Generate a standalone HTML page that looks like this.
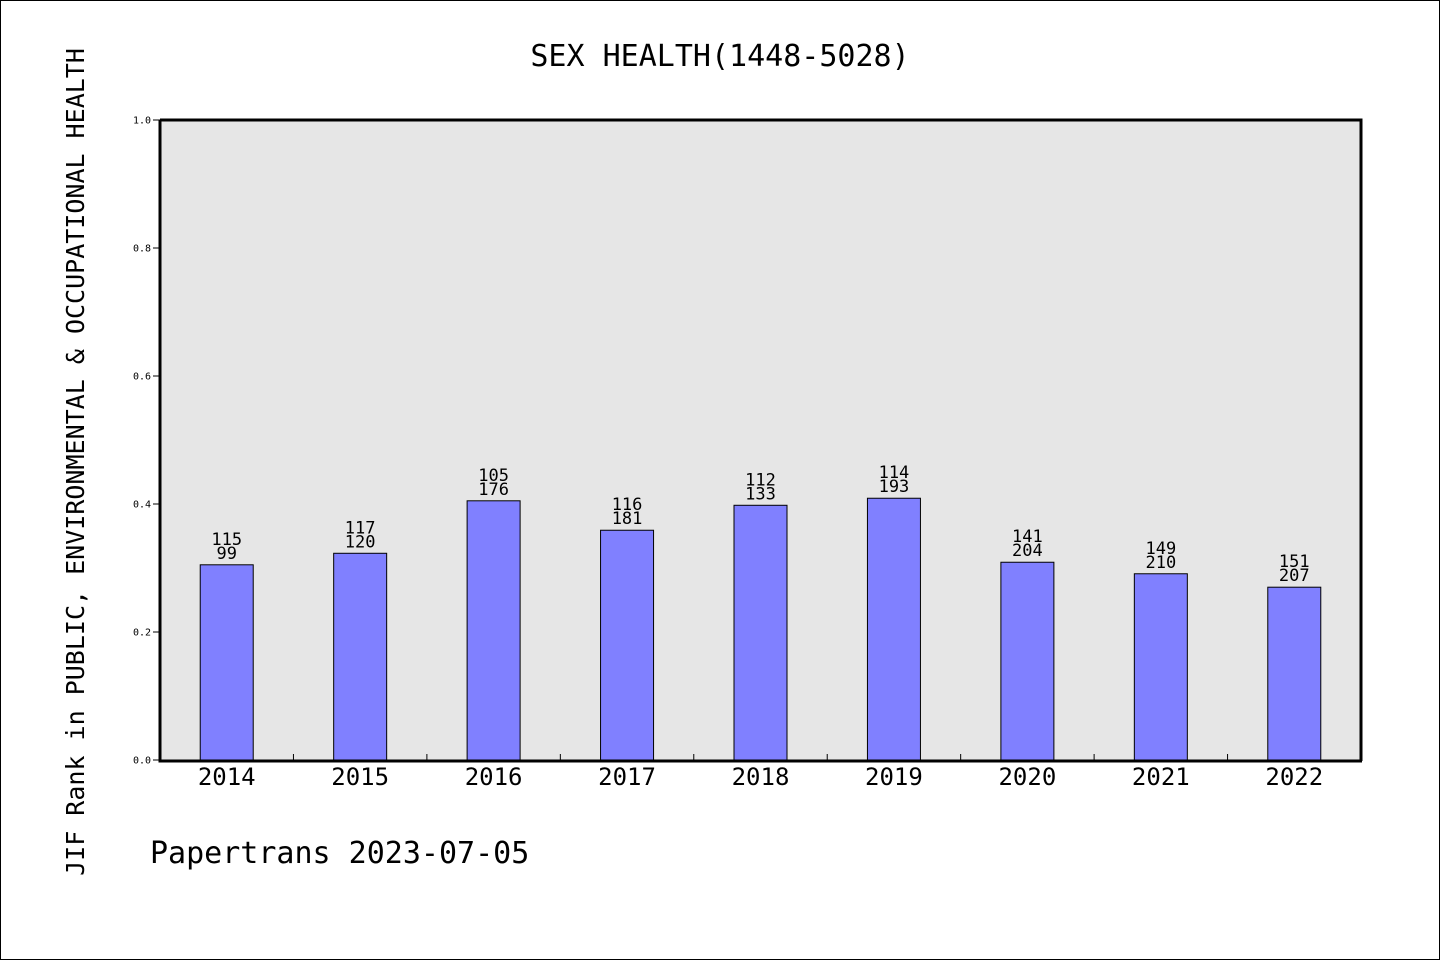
<!DOCTYPE html>
<html><head><meta charset="utf-8"><style>
body{margin:0;background:#fff}
svg text{font-family:"DejaVu Sans Mono","Liberation Mono",monospace}
</style></head><body>
<svg width="1440" height="960">
<rect x="0.5" y="0.5" width="1439" height="959" fill="#fff" stroke="#000"/>
<text x="720" y="66" font-size="30" text-anchor="middle">SEX HEALTH(1448-5028)</text>
<rect x="160" y="120" width="1201" height="640" fill="#e6e6e6"/>
<g id="marks"></g>
<path d="M160,120H1361V761M160,120V761H1362" fill="none" stroke="#000" stroke-width="3"/>
<text transform="translate(84,462) rotate(-90)" font-size="25" text-anchor="middle">JIF Rank in PUBLIC, ENVIRONMENTAL &amp; OCCUPATIONAL HEALTH</text>
<text x="150" y="863" font-size="30">Papertrans 2023-07-05</text>
</svg>
<script>
const years=["2014","2015","2016","2017","2018","2019","2020","2021","2022"];
const values=[0.305,0.323,0.405,0.359,0.398,0.409,0.309,0.291,0.270];
const labelTop=["115","117","105","116","112","114","141","149","151"];
const labelBottom=["99","120","176","181","133","193","204","210","207"];
const yTicks=[0,0.2,0.4,0.6,0.8,1.0];
const X0=160,X1=1361,Y0=760,Y1=120;
const bw=(X1-X0)/years.length;
const xc=i=>X0+bw*(i+0.5);
const y=v=>Y0-(Y0-Y1)*v;
const g=document.getElementById('marks');
const NS='http://www.w3.org/2000/svg';
function mk(t,a){const e=document.createElementNS(NS,t);for(const k in a)e.setAttribute(k,a[k]);g.appendChild(e);return e;}
yTicks.forEach(t=>{
 const l=mk('line',{x1:153,x2:160,y1:y(t),y2:y(t),stroke:'#000'});
 
 
 const tx=mk('text',{x:151,y:y(t)+3.5,'font-size':10,'text-anchor':'end'});tx.textContent=t.toFixed(1);
 
 
});
for(let i=1;i<years.length;i++){
 const l=mk('line',{x1:X0+bw*i,x2:X0+bw*i,y1:Y0,y2:Y0-6,stroke:'#000'});
 
 
}
years.forEach((yr,i)=>{
 const r=mk('rect',{x:xc(i)-26.5,y:y(values[i]),width:53,height:Y0-y(values[i]),fill:'#8080ff',stroke:'#000'});
 
 
 const a=mk('text',{x:xc(i),y:y(values[i])-20,'font-size':17,'text-anchor':'middle'});a.textContent=labelTop[i];
 
 
 const b=mk('text',{x:xc(i),y:y(values[i])-6,'font-size':17,'text-anchor':'middle'});b.textContent=labelBottom[i];
 
 
 const t=mk('text',{x:xc(i),y:785,'font-size':24,'text-anchor':'middle'});t.textContent=yr;
 
 
});
</script>
</body></html>
